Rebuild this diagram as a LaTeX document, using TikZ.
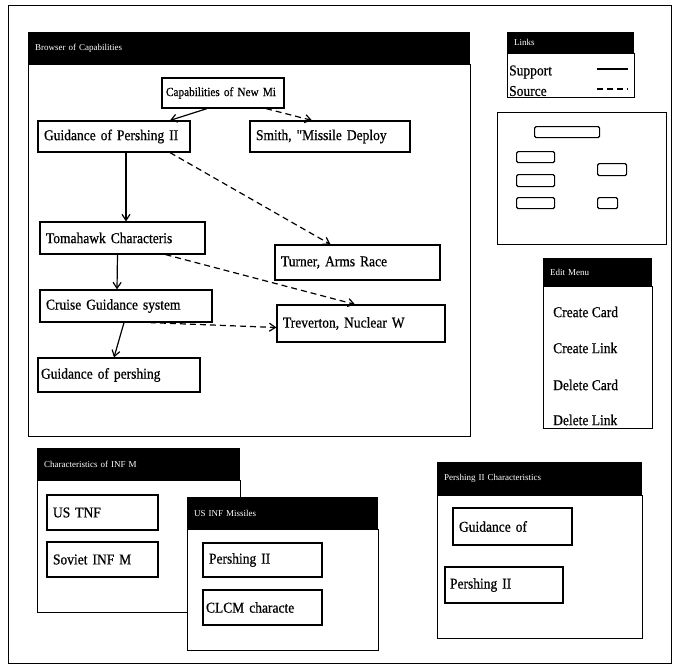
\documentclass[tikz,border=0pt]{standalone}
\usepackage{fontspec}
\setmainfont{Liberation Serif}
\newfontfamily\cardfont{Liberation Serif}[FakeBold=0.6, FakeStretch=0.9]
\usetikzlibrary{arrows.meta}
\begin{document}
\begin{tikzpicture}[x=1pt,y=-1pt,
  every node/.style={font=\cardfont\fontsize{15}{17}\selectfont},
  card/.style={draw, line width=1.2pt, inner xsep=6pt, inner ysep=0pt, align=left, anchor=center, fill=white},
  winframe/.style={draw, line width=1.2pt, fill=white, anchor=north west, inner sep=0pt},
  titlebar/.style={fill=black, text=white, anchor=north west, inner xsep=7pt, inner ysep=0pt, align=left, font=\fontsize{9}{10}\selectfont},
  minibox/.style={draw, line width=1.2pt, rounded corners=1.5pt, anchor=north west, inner sep=0pt},
  menuitem/.style={anchor=west, inner sep=0pt},
  sup/.style={draw, line width=1.2pt, -{Straight Barb[length=6pt,width=8pt]}},
  src/.style={draw, line width=1.2pt, dash pattern=on 6pt off 4pt, -{Straight Barb[length=6pt,width=8pt]}}
]
\useasboundingbox (0,0) rectangle (678,672);
% outer frame
\node[winframe, fill=none, line width=1pt, minimum width=663pt, minimum height=658pt] (outer) at (8,5) {};

% main browser window
\node[winframe, minimum width=442pt, minimum height=372pt] (mainw) at (28,64) {};
\node[titlebar, text width=428pt, minimum height=32pt] (mainbar) at (28,32) {Browser of Capabilities};

\node[card, text width=114pt, inner xsep=4pt, minimum height=30pt, font=\cardfont\fontsize{12.5}{15}\selectfont] (cap) at (223,93) {\mbox{Capabilities of New Mi}};
\node[card, text width=140pt, minimum height=31pt] (gp) at (114,136.5) {\mbox{Guidance of Pershing II}};
\node[card, text width=148pt, minimum height=31pt] (smith) at (330,136.5) {\mbox{Smith, "Missile Deploy}};
\node[card, text width=153pt, minimum height=32pt] (tom) at (122.5,238) {\mbox{Tomahawk Characteris}};
\node[card, text width=153pt, minimum height=35pt] (turner) at (357.5,262.5) {\mbox{Turner, Arms Race}};
\node[card, text width=160pt, minimum height=32pt] (cruise) at (126,306) {\mbox{Cruise Guidance system}};
\node[card, text width=156pt, minimum height=37pt] (trev) at (361,323.5) {\mbox{Treverton, Nuclear W}};
\node[card, text width=156pt, inner xsep=3pt, minimum height=34pt] (gpl) at (119,375) {\mbox{Guidance of pershing}};

\draw[sup] ([xshift=-16pt]cap.south) -- ([xshift=56pt]gp.north);
\draw[src] ([xshift=43pt]cap.south) -- ([xshift=-18pt]smith.north);
\draw[sup] ([xshift=12pt]gp.south) -- ([xshift=3.5pt]tom.north);
\draw[src] ([xshift=56pt]gp.south) -- ([xshift=-27pt]turner.north);
\draw[sup] ([xshift=-5pt]tom.south) -- ([xshift=-9pt]cruise.north);
\draw[src] ([xshift=43pt]tom.south) -- ([xshift=-6pt]trev.north);
\draw[src] ([xshift=24pt]cruise.south) -- ([yshift=-4pt]trev.west);
\draw[sup] ([xshift=-2pt]cruise.south) -- ([xshift=-5pt]gpl.north);

% legend
\node[winframe, minimum width=127pt, minimum height=44pt] (legw) at (507,53) {};
\node[titlebar, text width=113pt, minimum height=21pt] (legbar) at (507,32) {Links};
\node[menuitem] (lsup) at (509,72) {Support};
\node[menuitem] (lsrc) at (509,91) {Source};
\coordinate (ls1) at (597,69);
\coordinate (ls2) at (628,69);
\coordinate (ld1) at (597,89);
\coordinate (ld2) at (628,89);
\draw[line width=1.2pt] (ls1) -- (ls2);
\draw[line width=1.2pt, dash pattern=on 6pt off 4pt] (ld1) -- (ld2);

% overview
\node[winframe, minimum width=169pt, minimum height=132pt] (ov) at (497,112) {};
\node[minibox, minimum width=65pt, minimum height=11pt] (m1) at (534,126) {};
\node[minibox, minimum width=38pt, minimum height=11pt] (m2) at (516,151) {};
\node[minibox, minimum width=38pt, minimum height=12pt] (m3) at (516,174) {};
\node[minibox, minimum width=38pt, minimum height=11pt] (m4) at (516,197) {};
\node[minibox, minimum width=29pt, minimum height=12pt] (m5) at (597,163) {};
\node[minibox, minimum width=20pt, minimum height=11pt] (m6) at (597,197) {};

% menu
\node[winframe, minimum width=109pt, minimum height=142pt] (menuw) at (543,286) {};
\node[titlebar, text width=95pt, minimum height=28pt] (menubar) at (543,258) {Edit Menu};
\node[menuitem] (i1) at (553,312) {Create Card};
\node[menuitem] (i2) at (553,348) {Create Link};
\node[menuitem] (i3) at (553,385) {Delete Card};
\node[menuitem] (i4) at (553,420) {Delete Link};

% window 1
\node[winframe, minimum width=203pt, minimum height=132pt] (w1) at (37,480) {};
\node[titlebar, text width=189pt, minimum height=32pt] (w1bar) at (37,448) {Characteristics of INF M};
\node[card, text width=99pt, minimum height=35pt] (ustnf) at (102.5,512.5) {\mbox{US TNF}};
\node[card, text width=99pt, minimum height=35pt] (sov) at (102.5,559.5) {\mbox{Soviet INF M}};

% window 2
\node[winframe, minimum width=191pt, minimum height=121pt] (w2) at (187,529) {};
\node[titlebar, text width=177pt, minimum height=32pt] (w2bar) at (187,497) {US INF Missiles};
\node[card, text width=107pt, minimum height=34pt] (p2a) at (262.5,560) {\mbox{Pershing II}};
\node[card, text width=113pt, inner xsep=3pt, minimum height=35pt] (clcm) at (262.5,607.5) {\mbox{CLCM characte}};

% window 3
\node[winframe, minimum width=205pt, minimum height=143pt] (w3) at (437,495) {};
\node[titlebar, text width=191pt, minimum height=33pt] (w3bar) at (437,462) {Pershing II Characteristics};
\node[card, text width=107pt, minimum height=37pt] (gof) at (512.5,526.5) {\mbox{Guidance of}};
\node[card, text width=108pt, inner xsep=5pt, minimum height=36pt] (p2b) at (504,585) {\mbox{Pershing II}};
\end{tikzpicture}
\end{document}
